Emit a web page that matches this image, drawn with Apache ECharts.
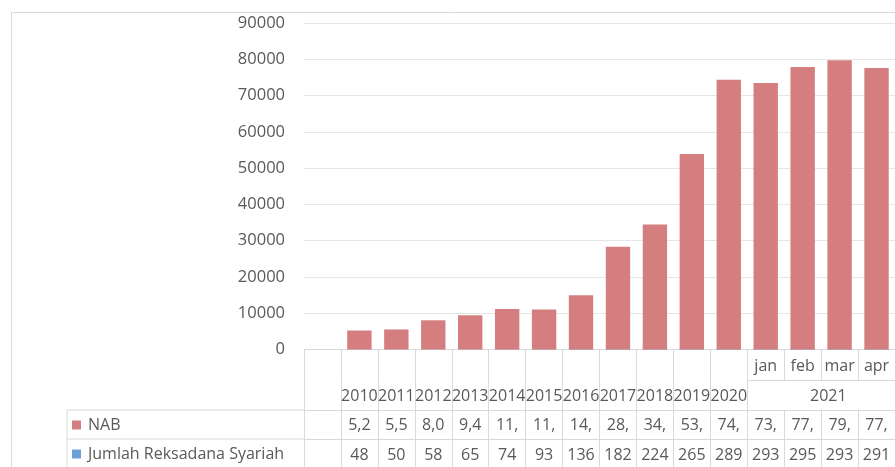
<!DOCTYPE html>
<html>
<head>
<meta charset="utf-8">
<script src="https://cdn.jsdelivr.net/npm/echarts@6/dist/echarts.min.js"></script>
<style>
html,body{margin:0;padding:0;background:#fff;}
#c{width:895px;height:467px;}
</style>
</head>
<body>
<div id="c"></div>
<script>
// ---- data ----
const months = ['', '', '', '', '', '', '', '', '', '', '', '', 'jan', 'feb', 'mar', 'apr'];
const years = ['', '2010', '2011', '2012', '2013', '2014', '2015', '2016', '2017', '2018', '2019', '2020', '2021', '2021', '2021', '2021'];
const nab = [null, 5230, 5520, 8050, 9430, 11160, 11020, 14950, 28310, 34490, 53900, 74370, 73460, 77900, 79700, 77600];
const jumlah = [null, 48, 50, 58, 65, 74, 93, 136, 182, 224, 265, 289, 293, 295, 293, 291];
const yTicks = { min: 0, max: 90000, interval: 10000 };
const seriesNames = ['NAB', 'Jumlah Reksadana Syariah'];

const cats = years.map((y, i) => y + '|' + months[i] + '|' + i);
const FONT = 'Open Sans';
const TXT = '#595959';
const LINE = '#d9d9d9';
const colW = 597 / cats.length;

function nabText(v) { return v == null ? '' : v.toLocaleString('en-US').slice(0, 3); }

// year group label placement (label centred over each group)
function yearLabel(i) {
  const y = years[i];
  if (!y) return '';
  let s = i; while (s > 0 && years[s - 1] === y) s--;
  let e = i; while (e < years.length - 1 && years[e + 1] === y) e++;
  const mid = (s + e) / 2;
  if (i === Math.floor(mid)) {
    return mid === i ? y : '{sh|' + y + '}';
  }
  return '';
}

const chart = echarts.init(document.getElementById('c'));
const baseLabel = { color: TXT, fontFamily: FONT, fontSize: 16, lineHeight: 16, interval: 0 };

function tableAxis(offset, len, labelFn, margin, tickFn, showLine) {
  return {
    type: 'category', data: cats, position: 'bottom', offset: offset, gridIndex: 0,
    axisLine: { show: showLine, lineStyle: { color: LINE, width: 1 } },
    axisTick: { show: true, length: len, interval: tickFn || 0, lineStyle: { color: LINE, width: 1 } },
    axisLabel: Object.assign({}, baseLabel, {
      margin: margin,
      formatter: (v, i) => labelFn(i),
      rich: { sh: { color: TXT, fontFamily: FONT, fontSize: 16, lineHeight: 16, padding: [0, 0, 0, colW + 14] } }
    }),
    splitLine: { show: false }
  };
}

const option = {
  animation: false,
  grid: { left: 304, top: 23, width: 597, height: 326.5, containLabel: false },
  legend: {
    orient: 'vertical', left: 72, top: 417, padding: 0, itemWidth: 9, itemHeight: 9, itemGap: 13,
    icon: 'rect', selectedMode: false,
    textStyle: { color: TXT, fontFamily: FONT, fontSize: 16, lineHeight: 16, padding: [0, 0, 0, 2] },
    data: seriesNames
  },
  xAxis: [
    tableAxis(0, 31, i => months[i], 9, null, true),
    tableAxis(31, 29.5, yearLabel, 7.5, (i) => i === 0 || years[i] !== years[i - 1], false),
    tableAxis(60.5, 29, i => nabText(nab[i]), 7, null, true),
    tableAxis(89.5, 40, i => jumlah[i] == null ? '' : String(jumlah[i]), 8, null, true)
  ],
  yAxis: {
    type: 'value', min: yTicks.min, max: yTicks.max, interval: yTicks.interval,
    axisLine: { show: false }, axisTick: { show: false },
    axisLabel: { color: TXT, fontFamily: FONT, fontSize: 16.5, margin: 19, formatter: v => String(v) },
    splitLine: { lineStyle: { color: '#e6e6e6', width: 1 } }
  },
  series: [
    // drawn first, fully overlapped (100%) by the NAB bars, as in the source chart
    { name: seriesNames[1], type: 'bar', data: jumlah, barWidth: '66%', barGap: '-100%', itemStyle: { color: '#6f9fd8' } },
    { name: seriesNames[0], type: 'bar', data: nab, barWidth: '66%', barGap: '-100%', itemStyle: { color: '#d47e7f' } }
  ]
};
chart.setOption(option);

// table decoration lines, positioned from the axes' own scales
const x0 = chart.convertToPixel({ xAxisIndex: 0 }, cats[0]);
const x1 = chart.convertToPixel({ xAxisIndex: 0 }, cats[1]);
const band = x1 - x0;
const left = x0 - band / 2;
const yBase = chart.convertToPixel({ yAxisIndex: 0 }, 0);
const janIdx = months.indexOf('jan');
const janLeft = chart.convertToPixel({ xAxisIndex: 0 }, cats[janIdx]) - band / 2;
const lineStyle = { stroke: LINE, lineWidth: 1 };
chart.setOption({
  graphic: [
    { type: 'rect', shape: { x: 11.5, y: 12.5, width: 1000, height: 600 }, style: { fill: 'none', stroke: LINE, lineWidth: 1 }, silent: true, z: -1 },
    { type: 'line', shape: { x1: janLeft, y1: yBase + 31, x2: left + band * cats.length, y2: yBase + 31 }, style: lineStyle, silent: true },
    { type: 'line', shape: { x1: 67, y1: yBase + 60.5, x2: left, y2: yBase + 60.5 }, style: lineStyle, silent: true },
    { type: 'line', shape: { x1: 67, y1: yBase + 89.5, x2: left, y2: yBase + 89.5 }, style: lineStyle, silent: true },
    { type: 'line', shape: { x1: 67, y1: yBase + 60.5, x2: 67, y2: 480 }, style: lineStyle, silent: true }
  ]
});
</script>
</body>
</html>
